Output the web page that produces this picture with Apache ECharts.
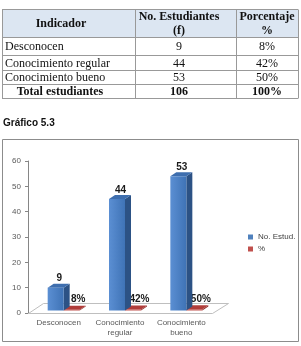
<!DOCTYPE html>
<html><head><meta charset="utf-8">
<script src="https://cdn.jsdelivr.net/npm/echarts@6/dist/echarts.min.js"></script>
<style>html,body{margin:0;padding:0;background:#fff}#c{width:301px;height:346px}</style>
</head><body><div id="c"></div>
<script>
// ---- data ----
const indicators = ['Desconocen', 'Conocimiento regular', 'Conocimiento bueno'];
const students = [9, 44, 53];
const percents = [8, 42, 50];
const totalStudents = 106;
const totalPercent = 100;
const tableHeader = ['Indicador', 'No. Estudiantes\n(f)', 'Porcentaje\n%'];
const totalLabel = 'Total estudiantes';
const chartTitle = 'Gráfico 5.3';
const seriesNames = ['No. Estud.', '%'];
const yTicks = [0, 10, 20, 30, 40, 50, 60];

// ---- table (graphic) ----
const colX = [2, 135, 236, 298];
const rowY = [9.5, 37.5, 55.5, 70.5, 84.5, 98.5];
const g = [];
g.push({type:'rect', shape:{x:colX[0], y:rowY[0], width:colX[3]-colX[0], height:rowY[1]-rowY[0]}, style:{fill:'#dce6f2'}});
rowY.forEach(y => g.push({type:'line', shape:{x1:colX[0], y1:y, x2:colX[3], y2:y}, style:{stroke:'#999', lineWidth:1}}));
colX.forEach(x => g.push({type:'line', shape:{x1:x+0.5, y1:rowY[0], x2:x+0.5, y2:rowY[5]}, style:{stroke:'#999', lineWidth:1}}));
const colCenters = [61, 179, 267];
const serif = '"Liberation Serif", "Times New Roman", serif';
function txt(t, x, y, align, bold) {
  return {type:'text', style:{text:t, x:x, y:y, align:align, verticalAlign:'middle', fontFamily:serif, fontSize:12, fontWeight:bold?'bold':'normal', fill:'#111', lineHeight:14}};
}
tableHeader.forEach((h, j) => g.push(txt(h, colCenters[j], (rowY[0]+rowY[1])/2 + 0.5, 'center', true)));
indicators.forEach((name, i) => {
  const yc = (rowY[i+1] + rowY[i+2]) / 2 + 0.5;
  g.push(txt(name, 5, yc, 'left', false));
  g.push(txt(String(students[i]), colCenters[1], yc, 'center', false));
  g.push(txt(percents[i] + '%', colCenters[2], yc, 'center', false));
});
const yT = (rowY[4] + rowY[5]) / 2 + 0.5;
g.push(txt(totalLabel, 60, yT, 'center', true));
g.push(txt(String(totalStudents), colCenters[1], yT, 'center', true));
g.push(txt(totalPercent + '%', colCenters[2], yT, 'center', true));
g.push({type:'text', style:{text:chartTitle, x:3, y:123.5, verticalAlign:'middle', fontFamily:'"Liberation Sans", Arial, sans-serif', fontSize:10, fontWeight:'bold', fill:'#111'}});
g.push({type:'rect', z:-1, shape:{x:2.5, y:139.5, width:296, height:202}, style:{fill:'#fff', stroke:'#8c8c8c', lineWidth:1}});

// ---- 3D bar rendering ----
const DX = 6, DY = 4, LIFT = 2.5, BW = 16;
function barShape(params, api, offset, colors, labelText, lx, ly) {
  const i = api.value(0), v = api.value(1);
  const top = api.coord([i, v]);
  const base = api.coord([i, 0]);
  const cx = top[0];
  const x0 = cx + offset, x1 = x0 + BW;
  const yt = Math.min(top[1], base[1] - 0.8) - LIFT, yb = base[1] - LIFT;
  return {type:'group', children:[
    {type:'polygon', shape:{points:[[x1,yt],[x1+DX,yt-DY],[x1+DX,yb-DY],[x1,yb]]}, style:{fill:colors[1]}},
    {type:'polygon', shape:{points:[[x0,yt],[x1,yt],[x1+DX,yt-DY],[x0+DX,yt-DY]]}, style:{fill:colors[2]}},
    {type:'rect', shape:{x:x0, y:yt, width:BW, height:yb-yt}, style:{fill:colors[0]}},
    {type:'text', style:{text:labelText, x:cx+lx, y:(ly==null? yt-9 : base[1]+ly), align:'center', verticalAlign:'middle', fontFamily:'"Liberation Sans", Arial, sans-serif', fontSize:10, fontWeight:'bold', fill:'#1a1a1a'}}
  ]};
}
const blueFront = new echarts.graphic.LinearGradient(0,0,1,0,[{offset:0,color:'#5b8fd3'},{offset:1,color:'#3f73b6'}]);

const option = {
  animation:false,
  graphic:g,
  grid:{left:28, width:184, top:161, bottom:33},
  legend:{data:seriesNames, orient:'vertical', left:243, top:228, itemWidth:5, itemHeight:5, itemGap:4, icon:'rect',
    textStyle:{fontSize:8, color:'#404040', fontFamily:'"Liberation Sans", Arial, sans-serif'}},
  xAxis:{type:'category', data:indicators.map(s => s.replace(' ', '\n')),
    axisLine:{show:false}, axisTick:{show:false},
    axisLabel:{interval:0, fontSize:8, lineHeight:10, color:'#595959', margin:5, fontFamily:'"Liberation Sans", Arial, sans-serif'}},
  yAxis:{type:'value', min:yTicks[0], max:yTicks[yTicks.length-1], interval:10,
    axisLine:{show:true, lineStyle:{color:'#868686'}}, axisTick:{show:true, length:3, lineStyle:{color:'#868686'}},
    splitLine:{show:false},
    axisLabel:{fontSize:8, color:'#595959', margin:7, fontFamily:'"Liberation Sans", Arial, sans-serif'}},
  series:[
    {type:'custom', name:'floor', silent:true, z:1, data:[[0,0]],
      renderItem:function(params, api){
        const p = api.coord([0,0]); const bw = api.size([1,0])[0];
        const L = p[0] - bw/2 + 0.5, R = L + 3*bw, y = p[1] + 0.5;
        return {type:'polygon', shape:{points:[[L,y],[R,y],[R+16,y-10],[L+15,y-10]]}, style:{fill:'none', stroke:'#bfbfbf', lineWidth:1}};
      }},
    {type:'custom', name:seriesNames[0], z:3, itemStyle:{color:'#4f81bd'},
      data:students.map((v,i)=>[i,v]),
      renderItem:function(params, api){
        return barShape(params, api, -11, [blueFront, '#2c5285', '#3e6eae'], String(students[params.dataIndex]), 0.5, null);
      }},
    {type:'custom', name:seriesNames[1], z:2, itemStyle:{color:'#c0504d'},
      data:percents.map((v,i)=>[i,v/100]),
      renderItem:function(params, api){
        return barShape(params, api, 5, ['#c0504d', '#8e2f2c', '#b03c39'], percents[params.dataIndex] + '%', 19.5, -14);
      }}
  ]
};
const chart = echarts.init(document.getElementById('c'), null, {renderer:'canvas'});
chart.setOption(option);
</script></body></html>
